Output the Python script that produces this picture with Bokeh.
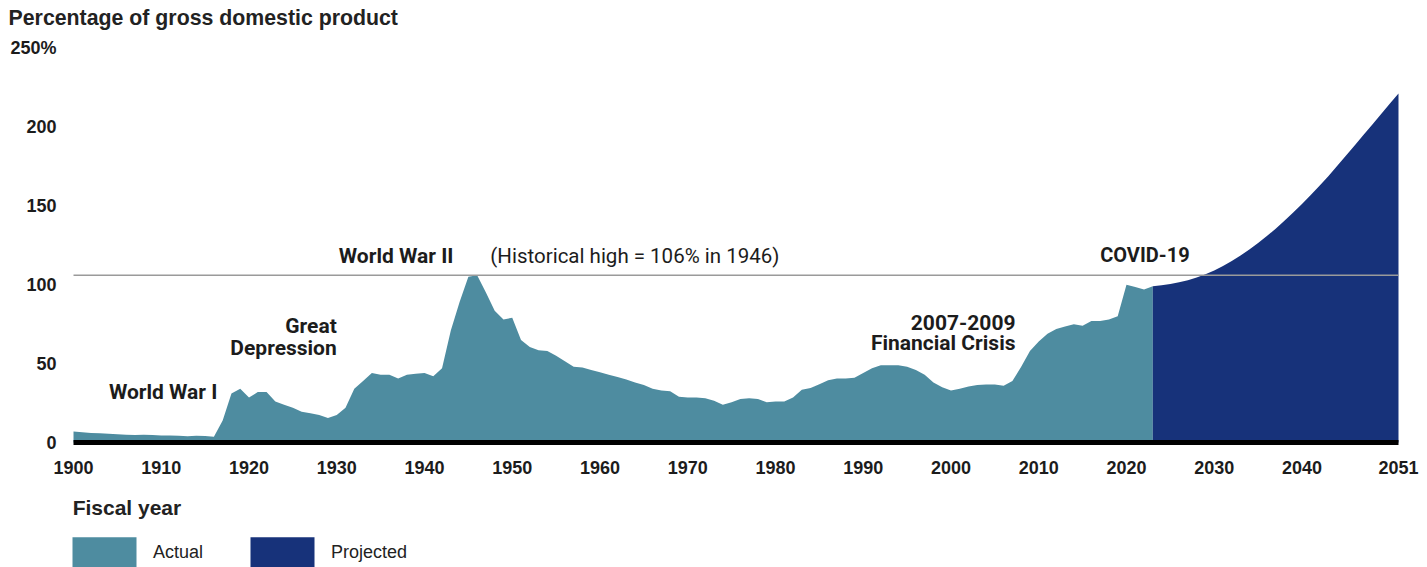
from bokeh.plotting import figure
from bokeh.models import Range1d, FixedTicker, Label, Legend, LegendItem
from bokeh.embed import file_html
from bokeh.resources import INLINE

# ---------------- data ----------------
years_actual = list(range(1900, 2024))
debt_actual = [
    7, 6.5, 6.1, 5.8, 5.6, 5.3, 4.9, 4.7, 5.0, 4.8,          # 1900s
    4.5, 4.4, 4.3, 4.0, 4.3, 4.2, 3.6, 14, 31, 34,           # 1910s
    28.5, 32, 32, 26, 24, 22, 19.5, 18.5, 17.5, 15.5,        # 1920s
    17.5, 22, 34, 39, 44, 43, 43, 40.5, 43, 43.5,            # 1930s
    44, 42, 47, 71, 89, 105, 106, 95, 83.5, 78,              # 1940s
    79, 65, 60.5, 58.5, 58, 55, 51.5, 48, 47.5, 46,          # 1950s
    44.5, 43, 41.5, 40, 38, 36.5, 34, 33, 32.5, 29,          # 1960s
    28.5, 28.5, 28, 26.5, 24, 25.5, 27.5, 28, 27.5, 25.5,    # 1970s
    26, 26, 28.5, 33.5, 34.5, 37, 39.5, 40.5, 40.5, 41,      # 1980s
    44, 47, 49, 49, 49, 48, 46, 43, 38, 35,                  # 1990s
    33, 34, 35.5, 36.5, 36.7, 36.7, 36, 39, 48, 58,          # 2000s
    64, 69, 72, 73.5, 75, 74, 77, 77, 78, 80,                # 2010s
    100, 98.5, 97, 99,                                       # 2020-2023
]
years_proj = list(range(2023, 2052))
debt_proj = [
    99, 99.7, 100.5, 101.5, 102.8, 104.5, 106.6, 109.0, 111.8, 115.0,
    118.5, 122.3, 126.4, 130.8, 135.5, 140.5, 145.7, 151.1, 156.8, 162.7,
    168.8, 175.2, 181.7, 188.2, 194.8, 201.4, 208.0, 214.6, 221.2,
]
hist_high = 106
x_ticks = [1900, 1910, 1920, 1930, 1940, 1950, 1960, 1970, 1980, 1990,
           2000, 2010, 2020, 2030, 2040, 2051]
y_ticks = [0, 50, 100, 150, 200, 250]

TEAL = "#4E8CA0"
NAVY = "#17327A"
TXT = "#1c1c1c"

x_first, x_last = years_actual[0], years_proj[-1]

# the plotting frame fills the whole canvas; the ranges are padded so that
# the data area sits where the original chart has it
p = figure(width=1427, height=567, output_backend="svg", toolbar_location=None,
           x_range=Range1d(1891.68, 2054.305), y_range=Range1d(-79.2, 280.1),
           min_border=0)
p.outline_line_color = None
p.xgrid.grid_line_color = None
p.ygrid.grid_line_color = None
p.background_fill_color = "white"
p.border_fill_color = "white"

r1 = p.varea(x=years_actual, y1=0, y2=debt_actual, fill_color=TEAL)
r2 = p.varea(x=years_proj, y1=0, y2=debt_proj, fill_color=NAVY)

# historical-high reference line
p.line(x=[x_first, x_last], y=[hist_high, hist_high], line_color="#9a9a9a", line_width=1.5)

# axes drawn at fixed data locations (take no side-panel space)
xa = p.xaxis[0]
xa.fixed_location = 0
xa.bounds = (x_first, x_last)
xa.ticker = FixedTicker(ticks=x_ticks)
xa.major_label_overrides = {t: str(t) for t in x_ticks}
xa.axis_line_color = "black"
xa.axis_line_width = 5
xa.major_tick_line_color = None
xa.minor_tick_line_color = None
xa.major_tick_out = 0
xa.major_tick_in = 0
xa.major_label_standoff = 18
xa.major_label_text_font = "Liberation Sans"
xa.major_label_text_font_style = "bold"
xa.major_label_text_font_size = "18px"
xa.major_label_text_color = TXT

ya = p.yaxis[0]
ya.fixed_location = x_first
ya.bounds = (0, 250)
ya.ticker = FixedTicker(ticks=y_ticks)
ya.major_label_overrides = {t: (f"{t}%" if t == 250 else str(t)) for t in y_ticks}
ya.axis_line_color = None
ya.major_tick_line_color = None
ya.minor_tick_line_color = None
ya.major_tick_out = 0
ya.major_tick_in = 0
ya.major_label_standoff = 17
ya.major_label_text_font = "Liberation Sans"
ya.major_label_text_font_style = "bold"
ya.major_label_text_font_size = "18px"
ya.major_label_text_color = TXT

# annotations
def lab(x, y, text, align="right", style="bold", size="21px", font="Roboto", color=TXT):
    p.add_layout(Label(x=x, y=y, text=text, text_align=align, text_baseline="middle",
                       text_font=font, text_font_style=style, text_font_size=size,
                       text_color=color))

lab(1916.4, 32.3, "World War I")
lab(1930.0, 74.1, "Great")
lab(1930.0, 60.2, "Depression")
lab(1943.3, 118.5, "World War II")
lab(1947.5, 118.5, "(Historical high = 106% in 1946)", align="left", style="normal", size="20.5px")
lab(2007.35, 76.1, "2007-2009")
lab(2007.35, 62.8, "Financial Crisis")
lab(2022.1, 119.0, "COVID-19", align="center", size="20px")

# chart title and x-axis caption
lab(1892.6, 268.7, "Percentage of gross domestic product", align="left", size="21.3px",
    font="Liberation Sans", color="#222222")
lab(1899.9, -41.2, "Fiscal year", align="left", size="21px",
    font="Liberation Sans", color="#222222")

# legend (Bokeh insets area swatches by 10% on each side)
legend = Legend(items=[LegendItem(label="Actual", renderers=[r1]),
                       LegendItem(label="Projected", renderers=[r2])],
                orientation="horizontal", location=(64, -4),
                glyph_width=80, glyph_height=38, label_standoff=9, spacing=39,
                padding=0, margin=0, border_line_color=None,
                background_fill_alpha=0,
                label_text_font="Liberation Sans", label_text_font_size="18px",
                label_text_color="#222222")
p.add_layout(legend)

open("out.html", "w").write(file_html(p, INLINE))
